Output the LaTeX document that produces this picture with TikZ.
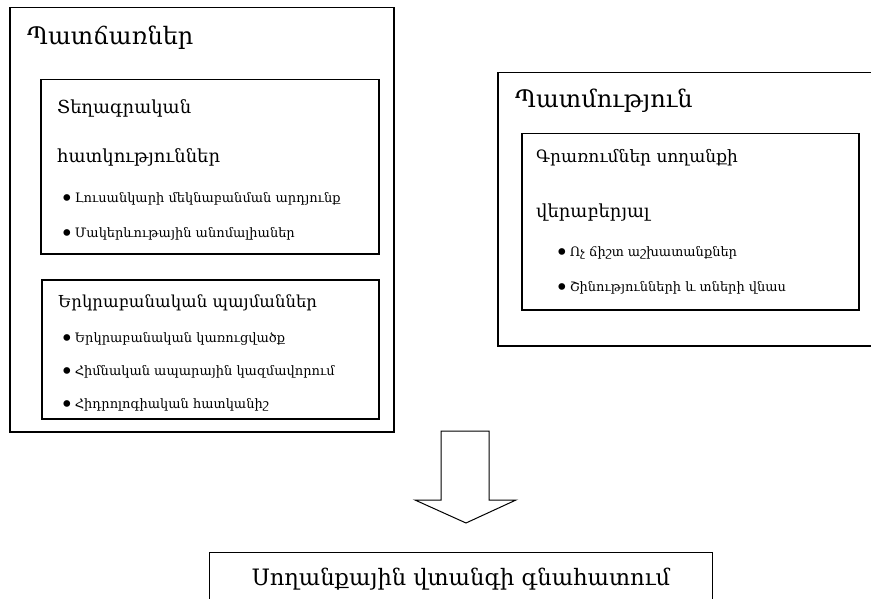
\documentclass[tikz,border=0pt]{standalone}
\usepackage{fontspec}
\setmainfont{DejaVu Serif}
\usetikzlibrary{positioning}
\newcommand{\bul}{{\fontsize{23}{23}\selectfont\raisebox{-4pt}{•}}\hspace{1pt}}
\tikzset{
  frame/.style={draw, line width=1.5pt, inner sep=0pt, anchor=north west},
  thinframe/.style={draw, line width=1pt, inner sep=0pt, anchor=north west},
  head/.style={anchor=base west, inner sep=0pt, font=\fontsize{24}{28}\selectfont},
  subhead/.style={anchor=base west, inner sep=0pt, font=\fontsize{18}{22}\selectfont},
  item/.style={anchor=base west, inner sep=0pt, font=\fontsize{13}{16}\selectfont},
}
\begin{document}
\begin{tikzpicture}[x=1pt, y=-1pt]
\useasboundingbox (0,0) rectangle (871,599);
% frames
\node [frame, minimum width=384, minimum height=424] (causes) at (9,7) {};
\node [frame, minimum width=338, minimum height=174] (topo) at (40,79) {};
\node [frame, minimum width=337, minimum height=139] (geo) at (41,279) {};
\node [frame, minimum width=390, minimum height=273] (history) at (497,72) {};
\node [frame, minimum width=337, minimum height=176] (records) at (521,133) {};
\node [thinframe, minimum width=503, minimum height=47] (assess) at (209,552) {};
% texts
\node [head] (causesT) at (27,45) {Պատճառներ};
\node [subhead] (topoT1) at (57,114) {Տեղագրական};
\node [subhead] (topoT2) at (57,163) {հատկություններ};
\node [item] (topoA) at (60,203) {\bul Լուսանկարի մեկնաբանման արդյունք};
\node [item] (topoB) at (60,237) {\bul Մակերևութային անոմալիաներ};
\node [subhead, font=\fontsize{16.5}{20}\selectfont] (geoT) at (58,307) {Երկրաբանական պայմաններ};
\node [item] (geoA) at (60,342) {\bul Երկրաբանական կառուցվածք};
\node [item] (geoB) at (60,375) {\bul Հիմնական ապարային կազմավորում};
\node [item] (geoC) at (60,408) {\bul Հիդրոլոգիական հատկանիշ};
\node [head] (historyT) at (515,108) {Պատմություն};
\node [subhead, font=\fontsize{17}{21}\selectfont] (recordsT1) at (536,163) {Գրառումներ սողանքի};
\node [subhead] (recordsT2) at (536,218) {վերաբերյալ};
\node [item] (recordsA) at (555,257) {\bul Ոչ ճիշտ աշխատանքներ};
\node [item] (recordsB) at (555,291) {\bul Շինությունների և տների վնաս};
\node [anchor=base, inner sep=0pt, font=\fontsize{22.6}{26}\selectfont] (assessT) at (461,585) {Սողանքային վտանգի գնահատում};
% block arrow
\draw [line width=1pt] (441,431) -- (489,431) -- (489,500) -- (516,500) -- (466,523)
  -- (415,500) -- (441,500) -- cycle;
\end{tikzpicture}
\end{document}
